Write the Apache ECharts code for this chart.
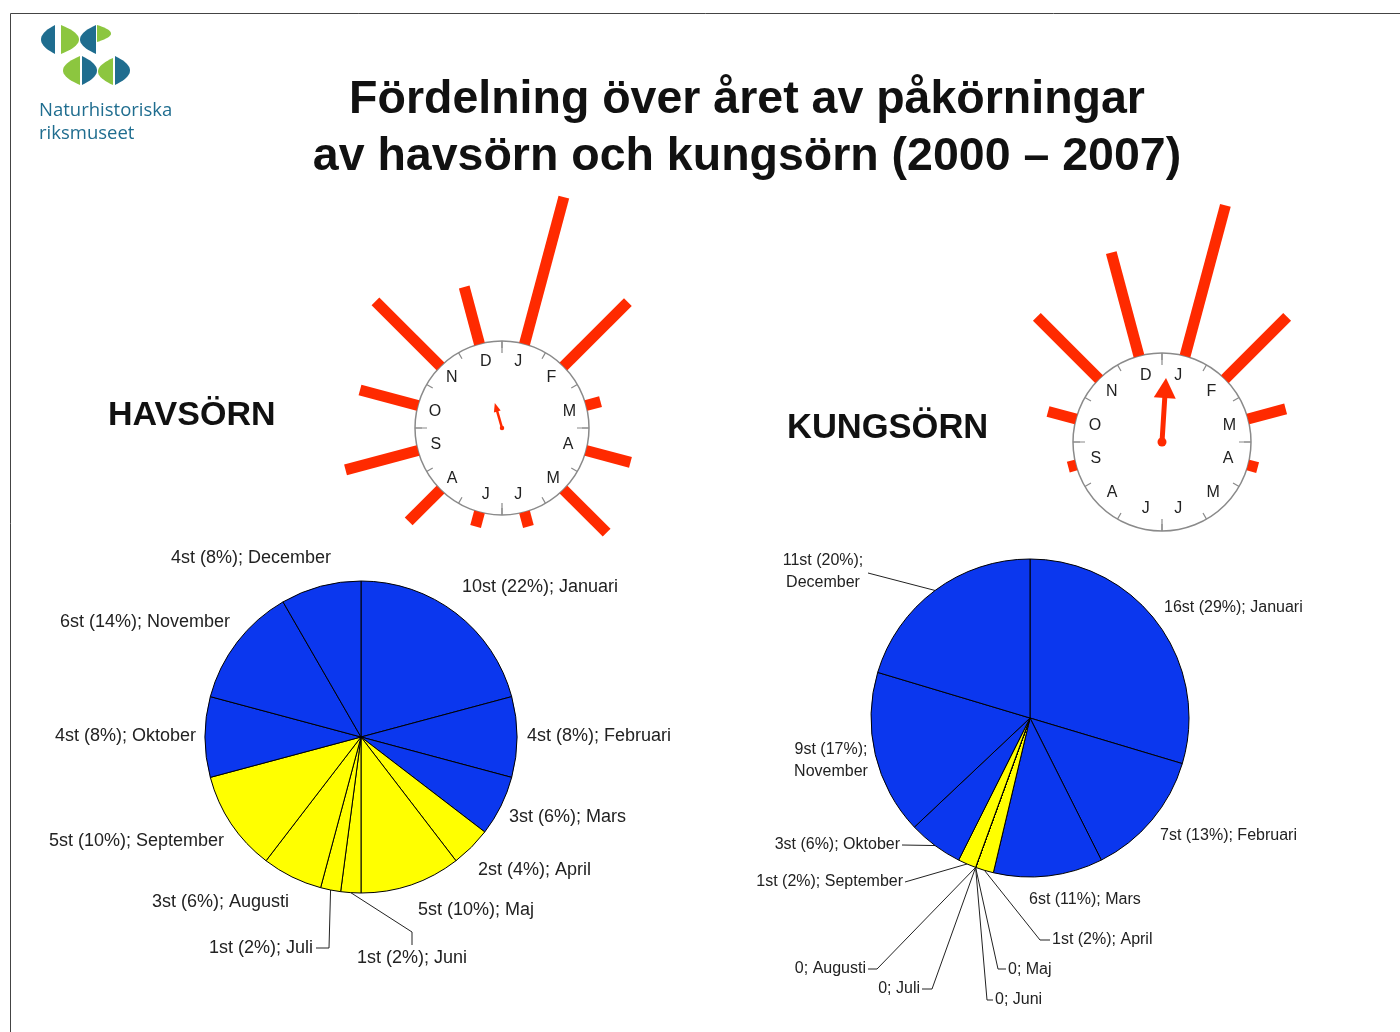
<!DOCTYPE html>
<html><head><meta charset="utf-8">
<script src="https://cdn.jsdelivr.net/npm/echarts@6/dist/echarts.min.js"></script>
<style>html,body{margin:0;padding:0;background:#fff}#c{width:1400px;height:1032px}</style>
</head><body><div id="c"></div>
<script>
// ---------- data ----------
const months = ['Januari','Februari','Mars','April','Maj','Juni','Juli','Augusti','September','Oktober','November','December'];
const monthLetters = ['J','F','M','A','M','J','J','A','S','O','N','D'];
const havsornCounts = [10,4,3,2,5,1,1,3,5,4,6,4];
const havsornPct    = [22,8,6,4,10,2,2,6,10,8,14,8];
const kungsornCounts = [16,7,6,1,0,0,0,0,1,3,9,11];
const kungsornPct    = [29,13,11,2,0,0,0,0,2,6,17,20];
// rose bar lengths (relative units)
const havsornRose  = [15.2,9.1,1.5,4.6,6.1,1.5,1.5,4.5,7.5,6.0,9.2,5.9];
const kungsornRose = [15.6,8.8,3.9,1.0,0,0,0,0,0.8,2.9,8.8,10.7];
// mean vector: [resultant length (0..1), direction in degrees]
const havsornMean  = [0.30, 344];
const kungsornMean = [0.72, 3.6];
const summerIdx = [3,4,5,6,7,8];

// ---------- layout / styles ----------
const BLUE = '#0b37ee', YELLOW = '#ffff00', RED = '#ff2a00';
const FONT = 'Liberation Sans, Arial, sans-serif';
const ROSE_UNIT = 10;     // px per rose unit
// label anchors [x, y, align] and bent label lines (hand placed in the original)
const havsornLabelPos = [[462,587,'left'],[527,736,'left'],[509,817,'left'],[478,870,'left'],[418,910,'left'],
  [357,958,'left'],[313,948,'right'],[289,902,'right'],[224,841,'right'],[196,736,'right'],[230,622,'right'],[251,558,'center']];
const havsornLabelLines = {5: [[412,932],[412,945]], 6: [[329,948],[316,948]]};
const kungsornLabelPos = [[1164,608,'left'],[1160,836,'left'],[1029,900,'left'],[1052,940,'left'],[1008,970,'left'],
  [995,1000,'left'],[920,989,'right'],[866,969,'right'],[903,882,'right'],[900,845,'right'],[831,761,'center'],[823,572,'center']];
const kungsornLabelLines = {3: [[1040,940],[1050,940]], 4: [[998,969],[1006,969]], 5: [[987,1000],[993,1000]],
  6: [[932,989],[922,989]], 7: [[877,969],[868,969]], 8: [[905,882],[905,882]], 9: [[902,845],[902,845]], 11: [[868,573],[868,573]]};

const chart = echarts.init(document.getElementById('c'));

function pieData(counts, pct, lines, twoLine) {
  return counts.map((v, i) => ({
    name: months[i], value: v,
    itemStyle: {color: summerIdx.includes(i) ? YELLOW : BLUE},
    labelLine: {show: i in lines},
    lbl: v === 0 ? `0; ${months[i]}` :
      (twoLine.includes(i) ? `${v}st (${pct[i]}%);\n${months[i]}` : `${v}st (${pct[i]}%); ${months[i]}`)
  }));
}
function labelLayoutFor(pos, lines) {
  return function(params) {
    const p = pos[params.dataIndex];
    const out = {x: p[0], y: p[1], align: p[2], verticalAlign: 'middle', moveOverlap: false, hideOverlap: false};
    const ln = lines[params.dataIndex];
    if (ln && params.labelLinePoints) {
      out.labelLinePoints = [params.labelLinePoints[0], ln[0], ln[1]];
    }
    return out;
  };
}

function roseRender(params, api) {
  const idx = api.value(0), len = api.value(1);
  if (!(len > 0)) return;
  const a = api.coord([0, idx]);
  const b = api.coord([len, idx]);
  const dx = b[0]-a[0], dy = b[1]-a[1], L = Math.hypot(dx, dy);
  const w = 5.5, nx = -dy/L*w, ny = dx/L*w;
  return {type: 'polygon', shape: {points: [[a[0]+nx,a[1]+ny],[b[0]+nx,b[1]+ny],[b[0]-nx,b[1]-ny],[a[0]-nx,a[1]-ny]]},
          style: {fill: RED}};
}
function arrowRender(lw, hl, hw) {
  return function(params, api) {
    const len = api.value(0), ang = api.value(1);
    const c = api.coord([0, ang]);
    const t = api.coord([len, ang]);
    const dx = t[0]-c[0], dy = t[1]-c[1], L = Math.hypot(dx, dy);
    const ux = dx/L, uy = dy/L;
    const bx = t[0]-ux*hl, by = t[1]-uy*hl;
    return {type: 'group', children: [
      {type: 'line', shape: {x1: c[0], y1: c[1], x2: bx+ux*1, y2: by+uy*1}, style: {stroke: RED, lineWidth: lw}},
      {type: 'polygon', shape: {points: [[t[0],t[1]],[bx - uy*hw/2, by + ux*hw/2],[bx + uy*hw/2, by - ux*hw/2]]}, style: {fill: RED}},
      {type: 'circle', shape: {cx: c[0], cy: c[1], r: lw*0.9}, style: {fill: RED}}
    ]};
  };
}

function rosePolars(center, faceR, rose) {
  const mx = Math.max(...rose);
  return [
    {center, radius: faceR},
    {center, radius: (mx + faceR/ROSE_UNIT) * ROSE_UNIT},
    {center, radius: faceR}
  ];
}
const hC = [502, 428], kC = [1162, 442], hR = 87, kR = 89;
const polar = [...rosePolars(hC, hR, havsornRose), ...rosePolars(kC, kR, kungsornRose)];

function roseAxes(base, faceR, rose) {
  const mx = Math.max(...rose);
  const grey = '#8a8a8a';
  const ang = [
    {polarIndex: base, type: 'category', data: monthLetters, startAngle: 90, clockwise: true, boundaryGap: true,
     axisLine: {lineStyle: {color: grey, width: 1.5}},
     axisTick: {show: true, inside: true, length: 7, lineStyle: {color: grey, width: 1.2}},
     axisLabel: {margin: 63 - faceR, color: '#222', fontSize: 16, lineHeight: 12, fontFamily: FONT},
     splitLine: {show: false}, z: 1},
    {polarIndex: base+1, type: 'category', data: monthLetters, startAngle: 90, clockwise: true, show: false},
    {polarIndex: base+2, type: 'value', min: 0, max: 360, interval: 90, startAngle: 90, clockwise: true,
     axisLine: {show: false}, axisLabel: {show: false}, splitLine: {show: false},
     axisTick: {show: true, inside: true, length: 12, lineStyle: {color: grey, width: 1.2}}}
  ];
  const rad = [
    {polarIndex: base, type: 'value', min: 0, max: 1, show: false},
    {polarIndex: base+1, type: 'value', min: -faceR/ROSE_UNIT, max: mx, show: false},
    {polarIndex: base+2, type: 'value', min: 0, max: 1, show: false}
  ];
  return {ang, rad};
}
const hA = roseAxes(0, hR, havsornRose), kA = roseAxes(3, kR, kungsornRose);

function labelStyle(size) {
  return {position: 'outside', color: '#222', fontSize: size, fontFamily: FONT, lineHeight: 22,
          formatter: p => p.data.lbl};
}

// logo leaf: straight chord (x, y1)-(x, y2) with a curved side bulging by b (negative = left)
function leaf(x, y1, y2, b, c) {
  const pts = [];
  const my = (y1 + y2) / 2;
  for (let i = 0; i <= 20; i++) {
    const t = i / 20;
    const px = (1-t)*(1-t)*x + 2*(1-t)*t*(x + 2*b) + t*t*x;
    const py = (1-t)*(1-t)*y1 + 2*(1-t)*t*my + t*t*y2;
    pts.push([px, py]);
  }
  return {type: 'polygon', shape: {points: pts, smooth: 0}, style: {fill: c}};
}
const LB = '#1f6d8f', LG = '#8cc63f';

chart.setOption({
  animation: false,
  backgroundColor: '#fff',
  polar,
  angleAxis: [...hA.ang, ...kA.ang],
  radiusAxis: [...hA.rad, ...kA.rad],
  graphic: [
    {type: 'rect', shape: {x: 10.5, y: 13.5, width: 1400, height: 1030}, style: {fill: 'none', stroke: '#444', lineWidth: 1}},
    leaf(55, 25, 54, -14, LB), leaf(61, 25, 54, 18, LG), leaf(96, 25, 54, -16, LB), leaf(97, 25, 42, 14, LG),
    leaf(80, 56, 85, -17, LG), leaf(82, 56, 85, 15, LB), leaf(113, 58, 85, -15, LG), leaf(115, 56, 85, 15, LB),
    {type: 'text', x: 39, y: 101, style: {text: 'Naturhistoriska', fill: LB, font: '18.5px "Open Sans", sans-serif'}},
    {type: 'text', x: 39, y: 124, style: {text: 'riksmuseet', fill: LB, font: '18.5px "Open Sans", sans-serif'}},
    {type: 'text', x: 747, y: 100, style: {text: 'Fördelning över året av påkörningar', fill: '#111', font: 'bold 46.5px ' + FONT, textAlign: 'center', textVerticalAlign: 'middle'}},
    {type: 'text', x: 747, y: 157, style: {text: 'av havsörn och kungsörn (2000 – 2007)', fill: '#111', font: 'bold 46.5px ' + FONT, textAlign: 'center', textVerticalAlign: 'middle'}},
    {type: 'text', x: 108, y: 416, style: {text: 'HAVSÖRN', fill: '#111', font: 'bold 34px ' + FONT, textVerticalAlign: 'middle'}},
    {type: 'text', x: 787, y: 428, style: {text: 'KUNGSÖRN', fill: '#111', font: 'bold 34.5px ' + FONT, textVerticalAlign: 'middle'}}
  ],
  series: [
    {type: 'pie', center: [361, 737], radius: 156, startAngle: 90, clockwise: true,
     itemStyle: {borderColor: '#000', borderWidth: 1},
     label: labelStyle(18),
     labelLine: {length: 10, length2: 6, lineStyle: {color: '#222', width: 1}},
     labelLayout: labelLayoutFor(havsornLabelPos, havsornLabelLines),
     data: pieData(havsornCounts, havsornPct, havsornLabelLines, [])},
    {type: 'pie', center: [1030, 718], radius: 159, startAngle: 90, clockwise: true,
     itemStyle: {borderColor: '#000', borderWidth: 1},
     label: labelStyle(16),
     labelLine: {length: 14, length2: 8, lineStyle: {color: '#222', width: 1}},
     labelLayout: labelLayoutFor(kungsornLabelPos, kungsornLabelLines),
     data: pieData(kungsornCounts, kungsornPct, kungsornLabelLines, [10,11])},
    {type: 'custom', coordinateSystem: 'polar', polarIndex: 1, renderItem: roseRender,
     encode: {angle: 0, radius: 1}, data: havsornRose.map((v,i) => [i, v])},
    {type: 'custom', coordinateSystem: 'polar', polarIndex: 2, renderItem: arrowRender(2.5, 9, 7),
     encode: {radius: 0, angle: 1}, data: [havsornMean]},
    {type: 'custom', coordinateSystem: 'polar', polarIndex: 4, renderItem: roseRender,
     encode: {angle: 0, radius: 1}, data: kungsornRose.map((v,i) => [i, v])},
    {type: 'custom', coordinateSystem: 'polar', polarIndex: 5, renderItem: arrowRender(5, 20, 22),
     encode: {radius: 0, angle: 1}, data: [kungsornMean]}
  ]
});
</script></body></html>
